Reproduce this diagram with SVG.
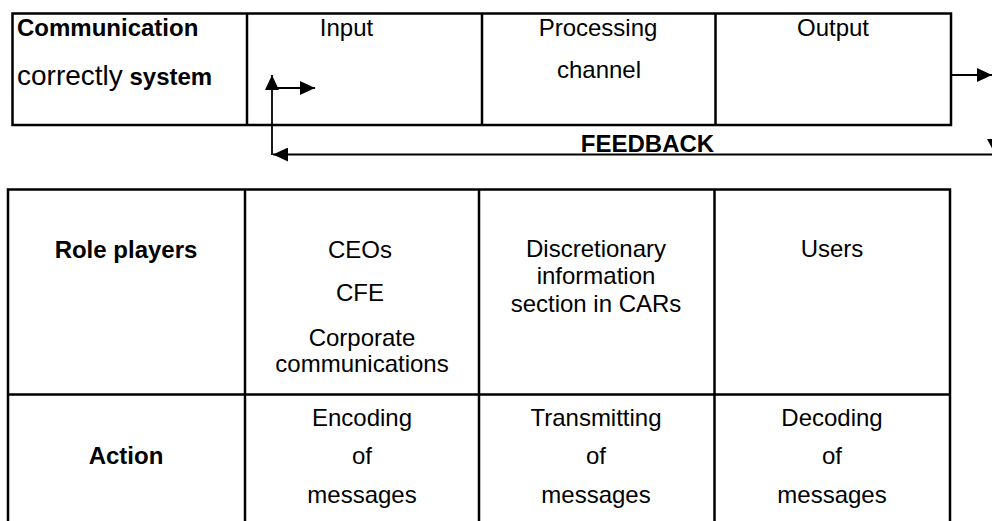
<svg xmlns="http://www.w3.org/2000/svg" width="992" height="521" viewBox="0 0 992 521">
<style>
.t{font-family:"Liberation Sans",Arial,sans-serif;font-size:24px;fill:#000}
.b{font-weight:bold}
.m{text-anchor:middle}
.grid{fill:none;stroke:#000;stroke-width:2.5}
.c{fill:none;stroke:#000;stroke-width:1.8}
</style>
<defs>
<marker id="ah" markerUnits="userSpaceOnUse" markerWidth="15" markerHeight="14" refX="15" refY="7" orient="auto">
<path d="M0,0 L15,7 L0,14 z" fill="#000"/>
</marker>
</defs>
<rect width="992" height="521" fill="#fff"/>
<g id="top-table">
<rect class="grid" x="12.5" y="13.5" width="938.5" height="111.5"/>
<line class="grid" x1="247" y1="13.5" x2="247" y2="125"/>
<line class="grid" x1="482" y1="13.5" x2="482" y2="125"/>
<line class="grid" x1="715.5" y1="13.5" x2="715.5" y2="125"/>
</g>
<g id="system">
<text class="t b" x="17" y="36">Communication</text>
<text class="t" x="17" y="85"><tspan font-size="28">correctly</tspan><tspan class="b"> system</tspan></text>
</g>
<g id="input"><text class="t m" x="346.5" y="36">Input</text></g>
<g id="processing">
<text class="t m" x="598" y="36">Processing</text>
<text class="t m" x="599" y="78">channel</text>
</g>
<g id="output"><text class="t m" x="833" y="36">Output</text></g>
<g id="feedback"><text class="t b m" x="647.5" y="152">FEEDBACK</text></g>
<g id="connectors">
<line class="c" x1="272" y1="155" x2="272" y2="75" marker-end="url(#ah)"/>
<line class="c" x1="272" y1="88" x2="315" y2="88" marker-end="url(#ah)"/>
<line x1="992" y1="154.5" x2="273" y2="154.5" stroke="#000" stroke-width="2.2" marker-end="url(#ah)"/>
<line class="c" x1="950" y1="75" x2="992" y2="75" marker-end="url(#ah)"/>
<polygon points="987,139 1001,139 994,152" fill="#000"/>
</g>
<g id="bottom-table">
<path class="grid" d="M8,525 V189.5 H950 V525 M245,189.5 V525 M479,189.5 V525 M714.5,189.5 V525 M8,394.5 H950"/>
</g>
<g id="role-players"><text class="t b m" x="126" y="257.5">Role players</text></g>
<g id="ceos">
<text class="t m" x="360" y="257.5">CEOs</text>
<text class="t m" x="360" y="301">CFE</text>
<text class="t m" x="362" y="346">Corporate</text>
<text class="t m" x="362" y="372">communications</text>
</g>
<g id="discretionary">
<text class="t m" x="596" y="257">Discretionary</text>
<text class="t m" x="596" y="284">information</text>
<text class="t m" x="596" y="312">section in CARs</text>
</g>
<g id="users"><text class="t m" x="832" y="257">Users</text></g>
<g id="action"><text class="t b m" x="126" y="464">Action</text></g>
<g id="encoding">
<text class="t m" x="362" y="426">Encoding</text>
<text class="t m" x="362" y="464">of</text>
<text class="t m" x="362" y="503">messages</text>
</g>
<g id="transmitting">
<text class="t m" x="596" y="426">Transmitting</text>
<text class="t m" x="596" y="464">of</text>
<text class="t m" x="596" y="503">messages</text>
</g>
<g id="decoding">
<text class="t m" x="832" y="426">Decoding</text>
<text class="t m" x="832" y="464">of</text>
<text class="t m" x="832" y="503">messages</text>
</g>
</svg>
